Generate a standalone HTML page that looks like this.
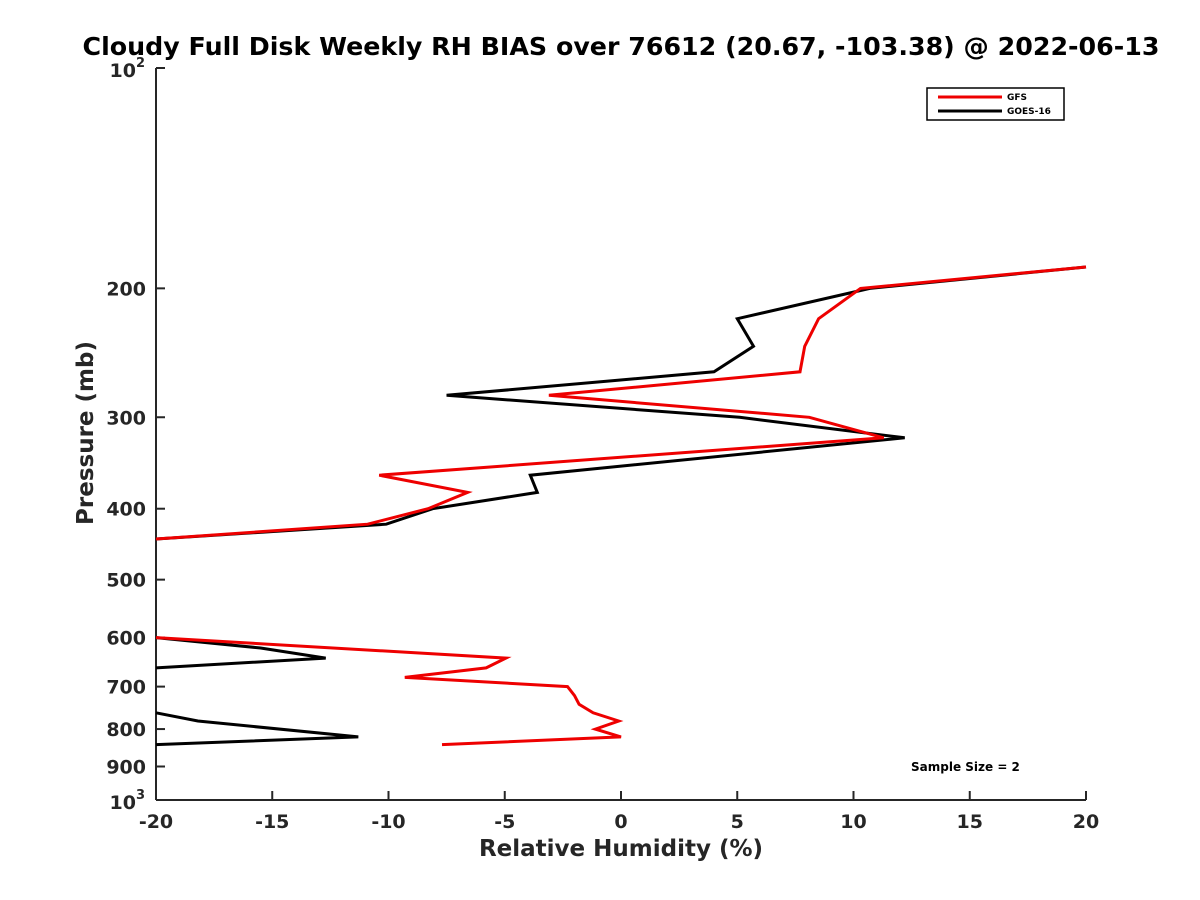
<!DOCTYPE html>
<html><head><meta charset="utf-8"><style>
body{margin:0;background:#fff}
svg{display:block;font-family:"DejaVu Sans","Liberation Sans",sans-serif;font-weight:bold}
</style></head><body>
<svg id="chart" width="1200" height="900">
<text x="621" y="55" text-anchor="middle" font-size="25.3" fill="#000">Cloudy Full Disk Weekly RH BIAS over 76612 (20.67, -103.38) @ 2022-06-13</text>
<g id="axes"></g>
<g id="series"></g>
<text x="621" y="856" text-anchor="middle" font-size="23" fill="#262626">Relative Humidity (%)</text>
<text transform="translate(93,433) rotate(-90)" text-anchor="middle" font-size="23" fill="#262626">Pressure (mb)</text>
<g>
<rect x="927" y="88" width="137" height="32" fill="#fff" stroke="#000" stroke-width="1.5"/>
<line x1="938" y1="97" x2="1002" y2="97" stroke="#e00" stroke-width="3"/>
<text x="1007" y="100" font-size="9" fill="#000">GFS</text>
<line x1="938" y1="111" x2="1002" y2="111" stroke="#000" stroke-width="3"/>
<text x="1007" y="114" font-size="9" fill="#000">GOES-16</text>
</g>
<text x="911" y="771" font-size="12" fill="#000">Sample Size = 2</text>
</svg>
<script>
const pressures = [187,200,220,240,260,280,300,320,360,380,400,420,440,null,600,640,660,680,700,720,740,760,780,800,820,840];
const gfsValues = [20,10.3,8.5,7.9,7.7,-3.1,8.1,11.3,-10.4,-6.6,-8.3,-10.9,-20,null,-20,-4.95,-5.8,-9.3,-2.3,-2.0,-1.8,-1.2,-0.1,-1.1,0,-7.7];
const goesPressures = [187,200,220,240,260,280,300,320,360,380,400,420,440,null,600,620,640,660,null,760,780,820,840];
const goesValues = [20,10.7,5.0,5.7,4.0,-7.5,5.1,12.2,-3.9,-3.6,-8.1,-10.1,-20,null,-20,-15.5,-12.7,-20,null,-20,-18.2,-11.3,-20];
const xTicks = [-20,-15,-10,-5,0,5,10,15,20];
const yTicks = [200,300,400,500,600,700,800,900];

const NS='http://www.w3.org/2000/svg';
const X0=156,X1=1086,Y0=68,Y1=800;
const xs=v=>X0+(v+20)/40*(X1-X0);
const ys=p=>Y0+(Math.log10(p)-2)*(Y1-Y0);
function mk(tag,attrs,parent){const e=document.createElementNS(NS,tag);for(const k in attrs)e.setAttribute(k,attrs[k]);parent.appendChild(e);return e;}
const ax=document.getElementById('axes');
let l=mk('line',{x1:X0,y1:Y0,x2:X0,y2:Y1,stroke:'#262626','stroke-width':2},ax);


l=mk('line',{x1:X0,y1:Y1,x2:X1,y2:Y1,stroke:'#262626','stroke-width':2},ax);


xTicks.forEach(v=>{
  const t=mk('line',{x1:xs(v),y1:Y1,x2:xs(v),y2:Y1-9,stroke:'#262626','stroke-width':2},ax);
  
  
  const tx=mk('text',{x:xs(v),y:Y1+28,'text-anchor':'middle','font-size':19,fill:'#262626'},ax);
  tx.textContent=String(v);
  
  
});
[100,1000].concat(yTicks).forEach(p=>{
  const t=mk('line',{x1:X0,y1:ys(p),x2:X0+9,y2:ys(p),stroke:'#262626','stroke-width':2},ax);
  
  
});
yTicks.forEach(p=>{
  const tx=mk('text',{x:X0-10,y:ys(p)+7,'text-anchor':'end','font-size':19,fill:'#262626'},ax);
  tx.textContent=String(p);
  
  
});
[[100,'2'],[1000,'3']].forEach(([p,e])=>{
  const tx=mk('text',{x:X0-20,y:ys(p)+9,'text-anchor':'end','font-size':19,fill:'#262626'},ax);
  tx.textContent='10';
  
  
  const sp=mk('text',{x:X0-20,y:ys(p)-1,'text-anchor':'start','font-size':13,fill:'#262626'},ax);
  sp.textContent=e;
  
  
});
function draw(ps,vs,color,name){
  const g=document.getElementById('series');
  let d='',pen=false;
  ps.forEach((p,i)=>{
    const v=vs[i];
    if(p==null||v==null){pen=false;return;}
    d+=(pen?'L':'M')+xs(v).toFixed(1)+','+ys(p).toFixed(1);pen=true;
  });
  const path=mk('path',{d:d,fill:'none',stroke:color,'stroke-width':3,'stroke-linejoin':'miter'},g);
  
  
}
draw(goesPressures,goesValues,'#000','goes16-line');
draw(pressures,gfsValues,'#e00','gfs-line');
</script>
</body></html>
